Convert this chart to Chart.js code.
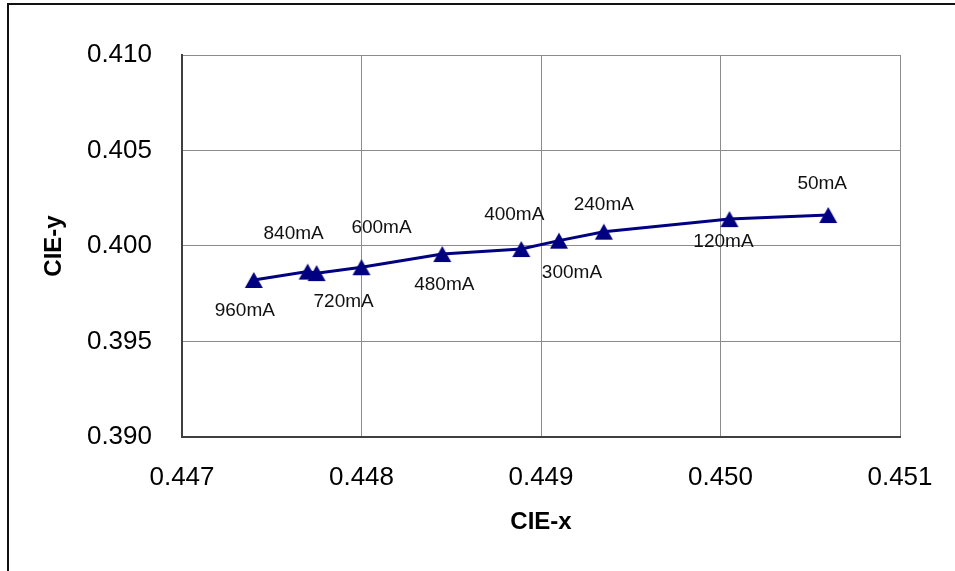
<!DOCTYPE html>
<html>
<head>
<meta charset="utf-8">
<script src="https://cdn.jsdelivr.net/npm/chart.js@4.4.0/dist/chart.umd.min.js"></script>
<style>
  html, body { margin: 0; padding: 0; background: #fff; }
  #wrap { position: relative; width: 955px; height: 571px; overflow: hidden; }
  #frame { position: absolute; left: 7px; top: 3px; width: 1000px; height: 700px;
           border-left: 2px solid #111; border-top: 2px solid #111; pointer-events: none; }
</style>
</head>
<body>
<div id="wrap">
  <canvas id="c" width="955" height="571"></canvas>
  <div id="frame"></div>
</div>
<script>
// ---- data ----
const currents = ['960mA', '840mA', '720mA', '600mA', '480mA', '400mA', '300mA', '240mA', '120mA', '50mA'];
const cieX = [0.44740, 0.44770, 0.44775, 0.44800, 0.44845, 0.44889, 0.44910, 0.44935, 0.45005, 0.45060];
const cieY = [0.39822, 0.39866, 0.39858, 0.39889, 0.39958, 0.39984, 0.40028, 0.40075, 0.40141, 0.40162];
const xTicks = [0.447, 0.448, 0.449, 0.450, 0.451];
const yTicks = [0.390, 0.395, 0.400, 0.405, 0.410];

// label placement (pixel offsets from each point), presentation only
const labelOffsets = [[-9, 31], [-14, -38], [27, 29], [20, -39], [2, 31], [-7, -34], [13, 32], [0, -27], [-6, 23], [-6, -31]];

const points = cieX.map((x, i) => ({ x: x, y: cieY[i] }));
const FONT = "'Liberation Sans', Arial, sans-serif";

// triangle marker centred on its bounding box (like the spreadsheet marker)
const marker = document.createElement('canvas');
marker.width = 20; marker.height = 18;
(function () {
  const m = marker.getContext('2d');
  m.fillStyle = '#000080';
  m.beginPath();
  m.moveTo(1, 17); m.lineTo(19, 17); m.lineTo(10, 1); m.closePath();
  m.fill();
})();

const labelPlugin = {
  id: 'pointLabels',
  afterDatasetsDraw(chart) {
    const ctx = chart.ctx;
    const meta = chart.getDatasetMeta(0);
    ctx.save();
    ctx.font = '19px ' + FONT;
    ctx.fillStyle = '#111';
    ctx.textAlign = 'center';
    ctx.textBaseline = 'middle';
    meta.data.forEach((el, i) => {
      const off = labelOffsets[i];
      ctx.fillText(currents[i], el.x + off[0], el.y + off[1]);
    });
    ctx.restore();
  }
};

new Chart(document.getElementById('c'), {
  type: 'scatter',
  data: {
    datasets: [{
      data: points,
      showLine: true,
      borderColor: '#000080',
      borderWidth: 3,
      backgroundColor: '#000080',
      pointStyle: marker,
      pointRadius: 9,
      pointHoverRadius: 9
    }]
  },
  options: {
    responsive: false,
    animation: false,
    layout: { padding: { left: 0, top: 55, right: 55, bottom: 0 } },
    plugins: { legend: { display: false }, tooltip: { enabled: false } },
    scales: {
      x: {
        type: 'linear',
        min: xTicks[0],
        max: xTicks[xTicks.length - 1],
        afterBuildTicks: (scale) => { scale.ticks = xTicks.map(v => ({ value: v })); },
        afterFit: (scale) => { scale.height = 134; scale.paddingLeft = 0; scale.paddingRight = 0; },
        ticks: {
          callback: (v) => Number(v).toFixed(3),
          font: { family: FONT, size: 26 },
          color: '#000',
          padding: 25,
          maxRotation: 0,
          autoSkip: false
        },
        grid: { color: '#8c8c8c', lineWidth: 1, drawTicks: false },
        border: { color: '#404040', width: 2 },
        title: {
          display: true,
          text: 'CIE-x',
          font: { family: FONT, size: 24, weight: 'bold' },
          color: '#000',
          padding: { top: 34, bottom: 34 }
        }
      },
      y: {
        type: 'linear',
        min: yTicks[0],
        max: yTicks[yTicks.length - 1],
        afterBuildTicks: (scale) => { scale.ticks = yTicks.map(v => ({ value: v })); },
        afterFit: (scale) => { scale.width = 182; scale.paddingTop = 0; scale.paddingBottom = 0; },
        ticks: {
          callback: (v) => Number(v).toFixed(3),
          font: { family: FONT, size: 26 },
          color: '#000',
          padding: 30
        },
        grid: { color: '#8c8c8c', lineWidth: 1, drawTicks: false },
        border: { color: '#404040', width: 2 },
        title: {
          display: true,
          text: 'CIE-y',
          font: { family: FONT, size: 24, weight: 'bold' },
          color: '#000',
          padding: { top: 40, bottom: 40 }
        }
      }
    }
  },
  plugins: [labelPlugin]
});
</script>
</body>
</html>
